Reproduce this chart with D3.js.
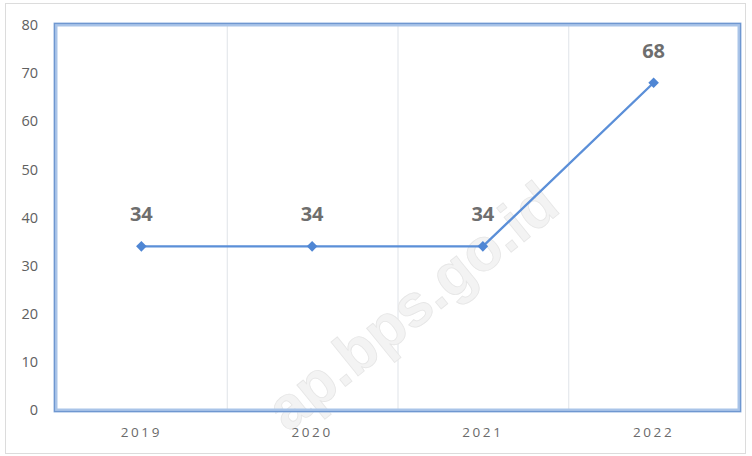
<!DOCTYPE html>
<html>
<head>
<meta charset="utf-8">
<script src="https://cdn.jsdelivr.net/npm/d3@7"></script>
<style>
  html, body { margin: 0; padding: 0; background: #fff; }
  svg { display: block; }
</style>
</head>
<body>
<svg id="chart" width="752" height="456"></svg>
<script>
const years = ["2019", "2020", "2021", "2022"];
const values = [34, 34, 34, 68];
const yTicks = [0, 10, 20, 30, 40, 50, 60, 70, 80];

const svg = d3.select("#chart");
const plot = { left: 56, right: 739, top: 25, bottom: 410 };

// outer chart frame
svg.append("rect")
  .attr("x", 5.5).attr("y", 3.5).attr("width", 740).attr("height", 450)
  .attr("fill", "#fff").attr("stroke", "#dcdcdc").attr("stroke-width", 1);

const x = d3.scaleBand().domain(years).range([plot.left, plot.right]).padding(0);
const y = d3.scaleLinear().domain([0, 80]).range([plot.bottom, plot.top]);

// vertical separators between categories
svg.append("g").selectAll("line")
  .data(years.slice(1))
  .join("line")
  .attr("x1", d => x(d) + 0.5).attr("x2", d => x(d) + 0.5)
  .attr("y1", plot.top).attr("y2", plot.bottom)
  .attr("stroke", "#dfe3e8").attr("stroke-width", 1);

// faint site watermark
svg.append("text")
  .attr("transform", "translate(425,322) rotate(-39)")
  .attr("text-anchor", "middle")
  .attr("font-family", "Arial, 'Liberation Sans', sans-serif")
  .attr("font-weight", "bold")
  .attr("font-size", 60)
  .attr("fill", "#f3f3f3")
  .attr("stroke", "#e6e6e6")
  .attr("stroke-width", 0.8)
  .text("ap.bps.go.id");

// y axis labels
const yAxis = d3.axisLeft(y).tickValues(yTicks).tickSize(0).tickPadding(0);
const gy = svg.append("g").attr("transform", `translate(38,0)`).call(yAxis);
gy.select(".domain").remove();
gy.selectAll("text")
  .attr("font-family", "'Open Sans', 'DejaVu Sans', sans-serif")
  .attr("font-size", 14.5)
  .attr("fill", "#606060");

// x axis labels
const xAxis = d3.axisBottom(x).tickSize(0).tickPadding(0);
const gx = svg.append("g").attr("transform", `translate(0,${plot.bottom + 17})`).call(xAxis);
gx.select(".domain").remove();
gx.selectAll("text")
  .attr("font-family", "'Open Sans', 'DejaVu Sans', sans-serif")
  .attr("font-size", 13.5)
  .attr("letter-spacing", "2.6px")
  .attr("fill", "#6a6a6a");

// plot frame (double blue border)
svg.append("rect")
  .attr("x", plot.left - 0.5).attr("y", plot.top - 0.5)
  .attr("width", plot.right - plot.left + 1).attr("height", plot.bottom - plot.top + 1)
  .attr("fill", "none").attr("stroke", "#a9c4e8").attr("stroke-width", 4);
svg.append("rect")
  .attr("x", plot.left - 1.5).attr("y", plot.top - 1.5)
  .attr("width", plot.right - plot.left + 3).attr("height", plot.bottom - plot.top + 3)
  .attr("fill", "none").attr("stroke", "#6f97d0").attr("stroke-width", 1.2);

const cx = d => x(d) + x.bandwidth() / 2;

// series line
const line = d3.line()
  .x((d, i) => cx(years[i]))
  .y(d => y(d));
svg.append("path")
  .datum(values)
  .attr("d", line)
  .attr("fill", "none")
  .attr("stroke", "#5b8fd8")
  .attr("stroke-width", 2.4);

// diamond markers (rotated squares)
svg.append("g").selectAll("path")
  .data(values)
  .join("path")
  .attr("d", d3.symbol(d3.symbolSquare, 56))
  .attr("transform", (d, i) => `translate(${cx(years[i])},${y(d)}) rotate(45)`)
  .attr("fill", "#4f86d4");

// value labels
svg.append("g").selectAll("text")
  .data(values)
  .join("text")
  .attr("x", (d, i) => cx(years[i]))
  .attr("y", d => y(d) - 25)
  .attr("text-anchor", "middle")
  .attr("font-family", "'Open Sans', 'DejaVu Sans', sans-serif")
  .attr("font-weight", "bold")
  .attr("font-size", 20)
  .attr("fill", "#6e6e6e")
  .text(d => d);
</script>
</body>
</html>
